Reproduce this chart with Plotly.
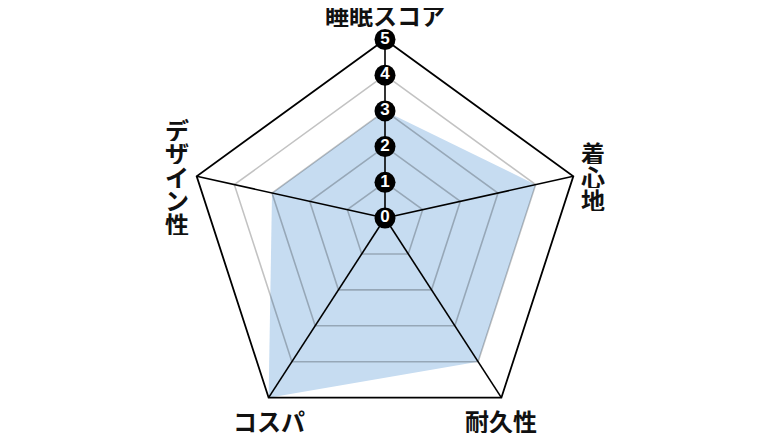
import numpy as np
import plotly.graph_objs as go

categories = ['睡眠スコア', '着心地', '耐久性', 'コスパ', 'デザイン性']
values = [3, 4, 4, 5, 3]
tick_labels = ['0', '1', '2', '3', '4', '5']
max_value = 5

# pentagon geometry (pixel-like units, y grows downward)
cx, cy, R = 385, 237.5, 198
ox, oy = 385, 218
angles = np.radians([90, 18, -54, -126, 162])
vx = cx + R * np.cos(angles)
vy = cy - R * np.sin(angles)


def ring(level):
    f = level / max_value
    xs = list(ox + f * (vx - ox))
    ys = list(oy + f * (vy - oy))
    return xs + xs[:1], ys + ys[:1]


data = []

# filled score polygon
f = np.array(values) / max_value
px = list(ox + f * (vx - ox))
py = list(oy + f * (vy - oy))
data.append(go.Scatter(x=px + px[:1], y=py + py[:1], mode='none', fill='toself',
                       fillcolor='#c6dcf1', hoverinfo='skip'))

# grey inner rings
for lv in range(1, max_value):
    rx, ry = ring(lv)
    data.append(go.Scatter(x=rx, y=ry, mode='lines', hoverinfo='skip',
                           line={'color': 'rgba(0,0,0,0.24)', 'width': 1.6}))

# spokes
for i in range(len(categories)):
    data.append(go.Scatter(x=[ox, vx[i]], y=[oy, vy[i]], mode='lines', hoverinfo='skip',
                           line={'color': 'black', 'width': 1.6}))

# outer ring
rx, ry = ring(max_value)
data.append(go.Scatter(x=rx, y=ry, mode='lines', hoverinfo='skip',
                       line={'color': 'black', 'width': 1.8}))

# tick badges on the top spoke
lv = np.arange(len(tick_labels)) / max_value
data.append(go.Scatter(x=list(ox + lv * (vx[0] - ox)), y=list(oy + lv * (vy[0] - oy)),
                       mode='markers+text', text=tick_labels, textposition='middle center',
                       marker={'size': 21, 'color': 'black'},
                       textfont={'color': 'white', 'size': 17, 'family': 'Liberation Sans',
                                 'weight': 'bold'},
                       hoverinfo='skip'))

font = {'family': 'Noto Sans CJK JP', 'size': 24, 'color': '#111111', 'weight': 'bold'}
annotations = []
# top and bottom labels horizontal, side labels stacked vertically
offsets = [(0, -26), (20, 0), (0, 22), (0, 22), (-20, 0)]
for i, name in enumerate(categories):
    x0 = vx[i] + offsets[i][0]
    y0 = vy[i] + offsets[i][1]
    if i in (1, 4):
        n = len(name)
        for j, ch in enumerate(name):
            annotations.append(dict(x=x0, y=y0 + (j - (n - 1) / 2) * 23.5, text=ch,
                                    height=23, showarrow=False, font=font,
                                    xref='x', yref='y'))
    else:
        annotations.append(dict(x=x0, y=y0, text=name, height=26, showarrow=False,
                                font=font, xref='x', yref='y'))

# the page adds an 8px body margin, so the ranges are shifted to compensate
layout = go.Layout(width=770, height=433, showlegend=False,
                   margin={'l': 0, 'r': 0, 't': 0, 'b': 0},
                   paper_bgcolor='white', plot_bgcolor='white',
                   xaxis={'range': [8, 778], 'visible': False, 'fixedrange': True},
                   yaxis={'range': [441, 8], 'visible': False, 'fixedrange': True},
                   annotations=annotations)

fig = go.Figure(data=data, layout=layout)
fig.write_html('out.html')
